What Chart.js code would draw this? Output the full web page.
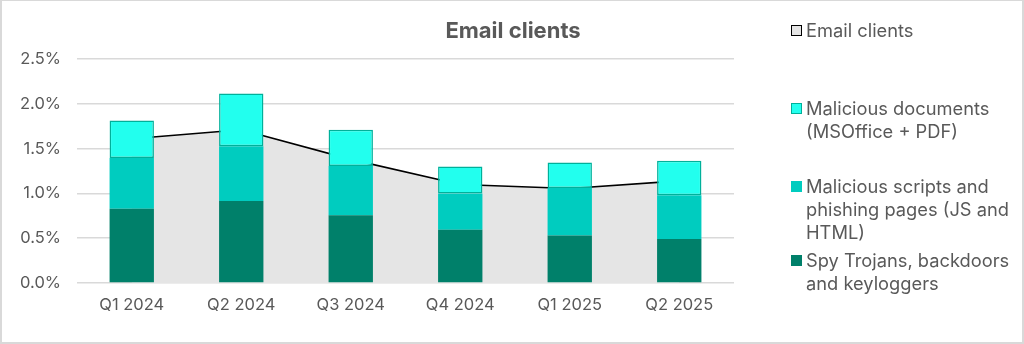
<!DOCTYPE html>
<html>
<head>
<meta charset="utf-8">
<script src="https://cdn.jsdelivr.net/npm/chart.js@4/dist/chart.umd.min.js"></script>
<style>
  html, body { margin: 0; padding: 0; background: #fff; }
  #frame {
    position: relative; width: 1024px; height: 344px; box-sizing: border-box;
    border: 2px solid #d9d9d9; border-top-width: 1px; overflow: hidden;
    font-family: Inter, "Open Sans", sans-serif;
  }
  #wrap { position: absolute; left: -2px; top: -1px; width: 1024px; height: 344px; }
  #title {
    position: absolute; left: 0; width: 1022px; top: 16px; text-align: center;
    font-weight: 700; font-size: 22px; color: #595959; line-height: 26px;
  }
  #legend { position: absolute; left: 788px; top: 0; width: 234px; color: #595959; font-size: 18.3px; line-height: 23px; }
  .item { position: absolute; left: 0; display: flex; align-items: flex-start; }
  .box { width: 11px; height: 11px; margin-top: 6px; margin-left: 1px; margin-right: 4px; flex: none; box-sizing: border-box; }
  .txt { width: 216px; }
</style>
</head>
<body>
<div id="frame">
  <div id="wrap"><canvas id="c" width="1024" height="344"></canvas></div>
  <div id="title">Email clients</div>
  <div id="legend"></div>
</div>
<script>
// Quarterly share of email-client attacks by threat type (%)
const categories = ['Q1 2024', 'Q2 2024', 'Q3 2024', 'Q4 2024', 'Q1 2025', 'Q2 2025'];
const emailClients = [1.61, 1.71, 1.38, 1.10, 1.055, 1.14];
const spyTrojans = [0.83, 0.915, 0.755, 0.595, 0.53, 0.49];
const maliciousScripts = [0.565, 0.61, 0.55, 0.405, 0.53, 0.49];
const maliciousDocs = [0.42, 0.59, 0.405, 0.30, 0.285, 0.385];
const yTicks = [0, 0.5, 1.0, 1.5, 2.0, 2.5];

const labelEmail = 'Email clients';
const labelDocs = 'Malicious documents (MSOffice + PDF)';
const labelScripts = 'Malicious scripts and phishing pages (JS and HTML)';
const labelSpy = 'Spy Trojans, backdoors and keyloggers';

const GREY = '#595959';

const chart = new Chart(document.getElementById('c'), {
  data: {
    labels: categories,
    datasets: [
      { type: 'bar', label: labelSpy, data: spyTrojans, backgroundColor: '#00806a', borderWidth: 0, order: 1, stack: 'threats' },
      { type: 'bar', label: labelScripts, data: maliciousScripts, backgroundColor: '#00ccbf', borderWidth: 0, order: 1, stack: 'threats' },
      { type: 'bar', label: labelDocs, data: maliciousDocs, backgroundColor: '#22ffee', borderColor: '#00b09a',
        borderWidth: 1.5, borderSkipped: false, order: 1, stack: 'threats' },
      { type: 'line', label: labelEmail, data: emailClients, borderColor: '#000000', borderWidth: 1.6,
        backgroundColor: '#e5e5e5', fill: 'origin', pointRadius: 0, tension: 0, order: 2, stack: 'total' }
    ]
  },
  options: {
    responsive: false,
    animation: false,
    layout: { padding: { left: 0, right: 290, top: 59, bottom: 0 } },
    plugins: { legend: { display: false }, title: { display: false }, tooltip: { enabled: false } },
    datasets: { bar: { categoryPercentage: 1, barPercentage: 0.405 } },
    scales: {
      x: {
        stacked: true,
        grid: { display: false, drawTicks: false },
        border: { display: false },
        ticks: { color: GREY, font: { family: 'Inter', size: 16.5 }, padding: 12 },
        afterFit: s => { s.height = 61; }
      },
      y: {
        stacked: true,
        min: 0, max: 2.5,
        afterBuildTicks: s => { s.ticks = yTicks.map(v => ({ value: v })); },
        grid: { color: '#d9d9d9', lineWidth: 1.5, drawTicks: false },
        border: { display: false },
        ticks: { color: GREY, font: { family: 'Inter', size: 16.5 }, padding: 16,
                 callback: v => v.toFixed(1) + '%' },
        afterFit: s => { s.width = 77; }
      }
    }
  }
});

// Legend on the right, built from the chart's datasets
const legendItems = [
  { ds: 3, top: 18, fill: '#e5e5e5', stroke: '#000000' },
  { ds: 2, top: 96, fill: '#22ffee', stroke: '#00b09a' },
  { ds: 1, top: 174, fill: '#00ccbf', stroke: null },
  { ds: 0, top: 248, fill: '#00806a', stroke: null }
];
const legend = document.getElementById('legend');
legendItems.forEach(it => {
  const el = document.createElement('div');
  el.className = 'item';
  el.style.top = it.top + 'px';
  const box = document.createElement('div');
  box.className = 'box';
  box.style.background = it.fill;
  if (it.stroke) box.style.border = '1.5px solid ' + it.stroke;
  const txt = document.createElement('div');
  txt.className = 'txt';
  txt.textContent = chart.data.datasets[it.ds].label;
  el.appendChild(box); el.appendChild(txt);
  legend.appendChild(el);
});
</script>
</body>
</html>
